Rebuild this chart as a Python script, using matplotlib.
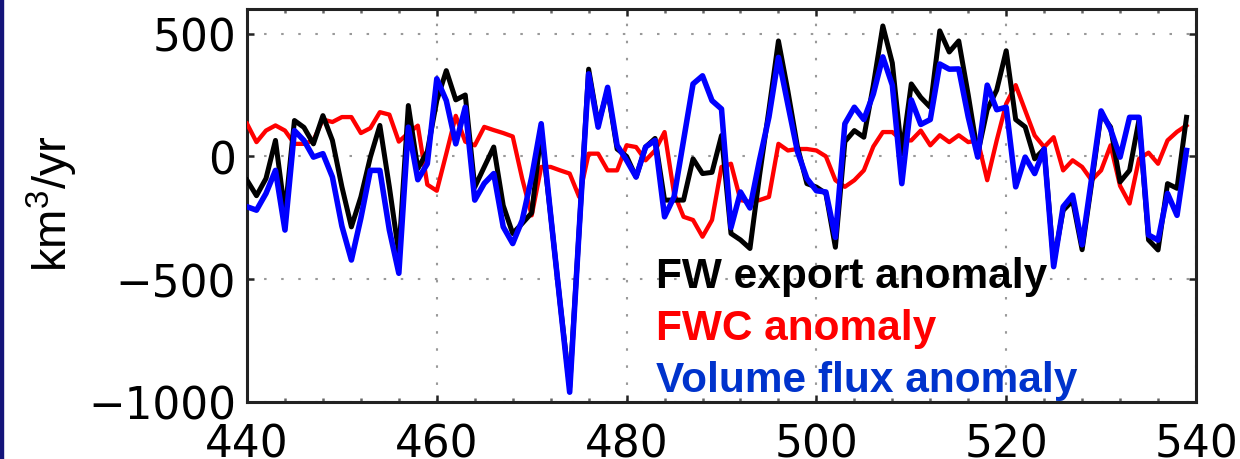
import matplotlib
matplotlib.use('Agg')
import matplotlib.pyplot as plt
from matplotlib.ticker import MultipleLocator
from matplotlib.patches import Rectangle

plt.rcParams['mathtext.fontset'] = 'custom'
plt.rcParams['mathtext.rm'] = 'Liberation Sans'
plt.rcParams['mathtext.it'] = 'Liberation Sans:italic'
plt.rcParams['mathtext.bf'] = 'Liberation Sans:bold'

years = list(range(440, 540))

fw_export = [
    -97, -160, -90, 65, -230, 146, 118, 51, 166, 65,
    -124, -287, -165, -3, 126, -124, -395, 207, -50, 20,
    227, 349, 230, 250, -125, -43, 38, -200, -314, -273,
    -230, 100, -240, -600, -940, -300, 355, 130, 270, 30,
    0, -84, 38, 73, -178, -178, -178, -10, -70, -65,
    85, -314, -340, -375, -80, 190, 470, 265, 40, -111,
    -125, -151, -370, 60, 105, 78, 290, 531, 380, 10,
    295, 240, 200, 511, 425, 470, 250, 11, 190, 270,
    430, 150, 120, -10, 30, -430, -220, -180, -380, -110,
    173, 119, -104, -57, 150, -340, -381, -111, -130, 159,
]

fwc = [
    133, 58, 105, 126, 105, 51, 51, 65, 150, 140,
    160, 160, 95, 115, 180, 170, 60, 95, 125, -115,
    -140, 11, 165, 60, 45, 120, 107, 95, 81, -91,
    -240, -43, -43, -57, -70, -165, 11, 11, -57, -57,
    45, 38, -16, 24, 99, -151, -246, -259, -327, -259,
    -43, -30, -178, -185, -178, -165, 51, 24, 30, 30,
    24, 0, -97, -124, -97, -57, 40, 99, 99, 65,
    65, 105, 45, 86, 58, 86, 58, 65, -97, 65,
    214, 290, 187, 85, 38, 78, -57, -16, -43, -97,
    -57, 45, -120, -192, -10, 15, -30, 65, 100, 126,
]

volume_flux = [
    -205, -219, -151, -57, -300, 105, 65, -3, 11, -84,
    -284, -422, -251, -57, -57, -300, -476, 119, -95, -30,
    316, 227, 51, 200, -178, -110, -70, -287, -355, -260,
    -84, 133, -240, -600, -960, -300, 336, 119, 281, 45,
    -16, -84, 38, 65, -246, -165, 65, 295, 328, 227,
    193, -290, -145, -210, -16, 160, 403, 210, 20, -90,
    -140, -145, -330, 133, 200, 150, 254, 405, 290, -111,
    230, 130, 150, 376, 355, 356, 160, -3, 290, 190,
    200, -124, -3, -70, 30, -449, -205, -158, -360, -90,
    185, 110, -3, 159, 159, -320, -341, -151, -240, 24,
]

x_ticks = [440, 460, 480, 500, 520, 540]
y_ticks = [-1000, -500, 0, 500]
legend_labels = ['FW export anomaly', 'FWC anomaly', 'Volume flux anomaly']
legend_colors = ['#000000', '#ff0000', '#0033cc']

W, H = 1240, 460
fig = plt.figure(figsize=(W / 100, H / 100), dpi=100)
fig.patch.set_facecolor('white')
ax = fig.add_axes([247 / W, 57 / H, 949 / W, 393 / H])

ax.plot(years, fwc, color='#ff0000', lw=3.1, zorder=3)
ax.plot(years, fw_export, color='#000000', lw=3.6, zorder=4)
ax.plot(years, volume_flux, color='#0000ff', lw=4.0, zorder=5)

ax.set_xlim(440, 540)
ax.set_ylim(-1000, 600)
ax.set_xticks(x_ticks)
ax.set_yticks(y_ticks)
ax.xaxis.set_minor_locator(MultipleLocator(4))

ax.grid(True, which='major', color='#999999', linestyle=(0, (1.2, 7)), lw=1.5, zorder=1)
ax.tick_params(which='both', direction='in', top=True, right=True, width=1.8, color='#222222')
ax.tick_params(which='major', length=5)
ax.tick_params(which='minor', length=3, color='#666666')
ax.tick_params(axis='x', which='major', pad=15)
ax.tick_params(axis='y', which='major', pad=8)
for lab in ax.get_xticklabels() + ax.get_yticklabels():
    lab.set_fontfamily('DejaVu Sans')
    lab.set_fontsize(31.5)
for sp in ax.spines.values():
    sp.set_linewidth(2.2)
    sp.set_color('#222222')

fig.text(52 / W, 1 - 204 / H, r'km$^3$/yr', rotation=90, ha='center', va='center',
         fontsize=34, family='Liberation Sans')

baselines = [288, 340, 392]
for lab, col, yb in zip(legend_labels, legend_colors, baselines):
    fig.text(656 / W, 1 - yb / H, lab, color=col, fontsize=30.5, fontweight='bold',
             family='Liberation Sans', ha='left', va='baseline', zorder=10)

fig.patches.append(Rectangle((0, 0), 3 / W, 1, transform=fig.transFigure,
                             color='#14147a', zorder=0))

fig.savefig('out.png', dpi=100)
